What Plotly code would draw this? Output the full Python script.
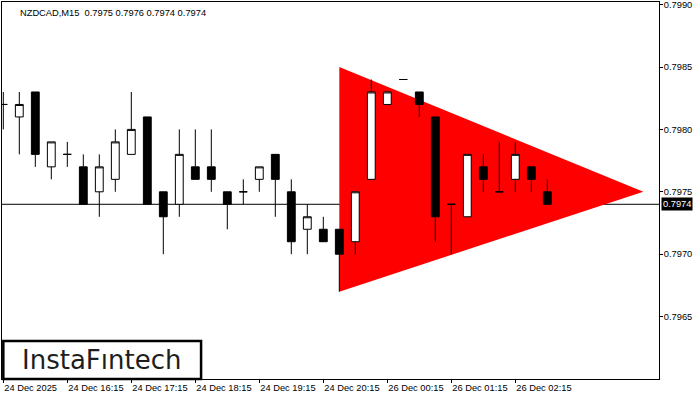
import plotly.graph_objects as go

# ---- data ----
bar_index = list(range(35))
open_ = [0.7982, 0.7981, 0.7983, 0.7977, 0.7978, 0.7977, 0.7975, 0.7976, 0.7978, 0.7981,
         0.7975, 0.7974, 0.7977, 0.7977, 0.7975, 0.7975, 0.7976, 0.7978, 0.7975, 0.7972,
         0.7972, 0.7972, 0.7971, 0.7976, 0.7982, 0.7984, 0.7983, 0.7981, 0.7974, 0.7973,
         0.7977, 0.7975, 0.7976, 0.7977, 0.7975]
high = [0.7983, 0.7983, 0.7983, 0.7979, 0.7979, 0.7978, 0.7978, 0.7980, 0.7983, 0.7981,
        0.7975, 0.7980, 0.7980, 0.7980, 0.7975, 0.7976, 0.7977, 0.7978, 0.7976, 0.7974,
        0.7973, 0.7972, 0.7975, 0.7984, 0.7983, 0.7984, 0.7983, 0.7981, 0.7974, 0.7978,
        0.7978, 0.7979, 0.7979, 0.7977, 0.7976]
low = [0.7980, 0.7978, 0.7977, 0.7976, 0.7977, 0.7974, 0.7973, 0.7975, 0.7978, 0.7974,
       0.7970, 0.7973, 0.7976, 0.7975, 0.7972, 0.7974, 0.7975, 0.7973, 0.7970, 0.7970,
       0.7971, 0.7967, 0.7970, 0.7976, 0.7982, 0.7984, 0.7981, 0.7971, 0.7970, 0.7973,
       0.7975, 0.7975, 0.7975, 0.7975, 0.7974]
close = [0.7982, 0.7982, 0.7978, 0.7979, 0.7978, 0.7974, 0.7977, 0.7979, 0.7980, 0.7974,
         0.7973, 0.7978, 0.7976, 0.7976, 0.7974, 0.7975, 0.7977, 0.7976, 0.7971, 0.7973,
         0.7971, 0.7970, 0.7975, 0.7983, 0.7983, 0.7984, 0.7982, 0.7973, 0.7974, 0.7978,
         0.7976, 0.7975, 0.7978, 0.7976, 0.7974]

tick_positions = [0, 4, 8, 12, 16, 20, 24, 28, 32]
tick_labels = ["24 Dec 2025", "24 Dec 16:15", "24 Dec 17:15", "24 Dec 18:15",
               "24 Dec 19:15", "24 Dec 20:15", "26 Dec 00:15", "26 Dec 01:15", "26 Dec 02:15"]
price_ticks = [0.7965, 0.7970, 0.7975, 0.7980, 0.7985, 0.7990]

# bearish symmetrical triangle pattern vertices (bar index, price)
triangle_x = [21, 40, 21]
triangle_y = [0.7985, 0.7975, 0.7967]

symbol = "NZDCAD,M15"
last_price = close[-1]

X_RANGE = [-0.081, 40.98]
Y_RANGE = [0.796000, 0.799021]

fig = go.Figure()

fig.add_trace(go.Candlestick(
    x=bar_index, open=open_, high=high, low=low, close=close,
    increasing=dict(fillcolor="white", line=dict(color="black", width=1)),
    decreasing=dict(fillcolor="black", line=dict(color="black", width=1)),
    whiskerwidth=0, hoverinfo="skip", showlegend=False))

# triangle pattern (drawn beneath the candles, in data coordinates)
tri_path = "M " + " L ".join(f"{x},{y}" for x, y in zip(triangle_x, triangle_y)) + " Z"
fig.add_shape(type="path", xref="x", yref="y", path=tri_path,
              fillcolor="#ff0000", line=dict(width=0), layer="below")

# current price line
fig.add_shape(type="line", xref="paper", yref="y", x0=0, x1=1, y0=last_price, y1=last_price,
              line=dict(color="black", width=1), layer="below")

tick_font = dict(family="Liberation Sans, Arial, sans-serif", size=9.3, color="black")

fig.update_layout(
    width=700, height=400,
    margin=dict(l=2, r=41, t=2, b=21),
    paper_bgcolor="white", plot_bgcolor="white",
    showlegend=False,
    xaxis=dict(
        range=X_RANGE, rangeslider=dict(visible=False), automargin=False,
        tickmode="array", tickvals=tick_positions, ticktext=tick_labels,
        ticks="outside", ticklen=3, tickcolor="black", tickwidth=1,
        ticklabelposition="outside right", tickangle=0,
        showgrid=False, zeroline=False,
        showline=True, linecolor="black", linewidth=1, mirror=True,
        tickfont=tick_font, fixedrange=True),
    yaxis=dict(
        range=Y_RANGE, side="right", automargin=False,
        tickmode="array", tickvals=price_ticks,
        ticktext=[f"{v:.4f}" for v in price_ticks],
        ticks="outside", ticklen=3, tickcolor="black", tickwidth=1,
        ticklabelstandoff=-1, ticklabeloverflow="allow",
        showgrid=False, zeroline=False,
        showline=True, linecolor="black", linewidth=1, mirror=True,
        tickfont=tick_font, fixedrange=True),
)

# header text
fig.add_annotation(
    xref="paper", yref="paper", x=0.0245, y=0.99, xanchor="left", yanchor="top",
    text=f"{symbol}  {open_[-1]:.4f} {high[-1]:.4f} {low[-1]:.4f} {close[-1]:.4f}",
    showarrow=False, font=dict(family="Liberation Sans, Arial, sans-serif", size=9.3, color="black"))

# current price label
fig.add_annotation(
    xref="paper", yref="y", x=1, y=last_price, xanchor="left", yanchor="middle",
    xshift=2, text=f"{last_price:.4f}", showarrow=False, bgcolor="black",
    borderpad=1, font=dict(family="Liberation Sans, Arial, sans-serif", size=9.3, color="white"))

# logo box
fig.add_shape(type="rect", xref="paper", yref="paper", x0=0.002, x1=0.303, y0=0.0, y1=0.101,
              line=dict(color="black", width=2.5), fillcolor="white", layer="above")
fig.add_annotation(
    xref="paper", yref="paper", x=0.152, y=0.0505, xanchor="center", yanchor="middle",
    text="InstaFıntech", showarrow=False,
    font=dict(family="DejaVu Sans, sans-serif", size=26, color="#1e1e1e"))

fig.write_html("out.html", config={"displayModeBar": False},
               post_script="document.body.style.margin='0px';")
